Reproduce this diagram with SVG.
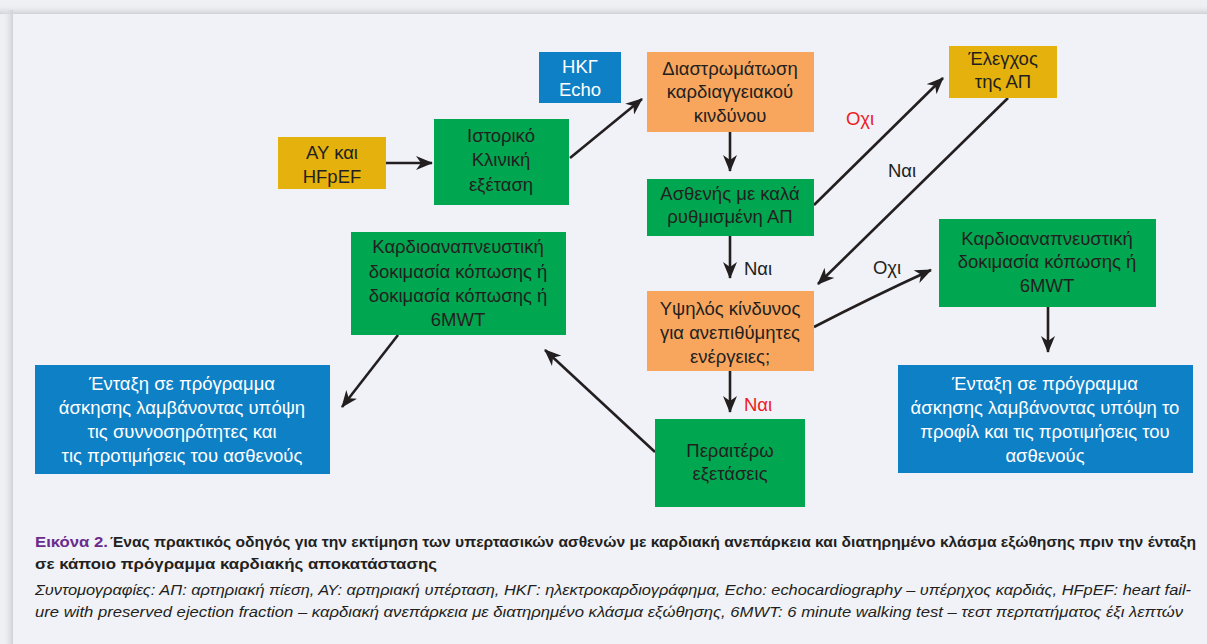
<svg xmlns="http://www.w3.org/2000/svg" width="1207" height="644" viewBox="0 0 1207 644">
<defs>
<style>
.t{font-family:"Liberation Sans",Arial,sans-serif;font-size:18.5px;fill:#231f20;text-anchor:middle}
.w{fill:#ffffff}
.red{fill:#ed1c24}
.g{fill:#00a650}
.o{fill:#f8a65d}
.y{fill:#e5b10d}
.b{fill:#0e80c6}
.c{stroke:#231f20;stroke-width:2.6;fill:none;marker-end:url(#ah)}
.cap{font-family:"Liberation Sans",Arial,sans-serif;font-size:14px;fill:#231f20}
.bold{font-weight:bold}
.it{font-style:italic}
.pur{fill:#6a2c8c;font-weight:bold}
</style>
<marker id="ah" markerUnits="userSpaceOnUse" markerWidth="18" markerHeight="14" refX="16" refY="7" orient="auto">
<path d="M0,0 L17,7 L0,14 L5,7 Z" fill="#231f20"/>
</marker>
<linearGradient id="shT" x1="0" y1="0" x2="0" y2="1">
<stop offset="0" stop-color="#eef0f3" stop-opacity="0"/>
<stop offset="1" stop-color="#cfd1d6"/>
</linearGradient>
<linearGradient id="shL" x1="0" y1="0" x2="1" y2="0">
<stop offset="0" stop-color="#eef0f3" stop-opacity="0"/>
<stop offset="1" stop-color="#cfd1d6"/>
</linearGradient>
</defs>
<rect x="0" y="0" width="1207" height="644" fill="#eff0f4"/>
<rect x="0" y="4" width="1207" height="10" fill="url(#shT)"/>
<rect x="2" y="10" width="11" height="634" fill="url(#shL)"/>
<rect x="13" y="14" width="1194" height="630" fill="#f1f2f7"/>

<g id="connectors">
<path class="c" d="M386,163 L432,163"/>
<path class="c" d="M570,158 L642,99"/>
<path class="c" d="M730,132 L730,171"/>
<path class="c" d="M814,205 L943,78"/>
<path class="c" d="M1008,98 L818,284"/>
<path class="c" d="M730,236 L730,278"/>
<path class="c" d="M814,327 Q870,298 931,270"/>
<path class="c" d="M1048,307 L1048,352"/>
<path class="c" d="M730,371 L730,412"/>
<path class="c" d="M655,452 L545,350"/>
<path class="c" d="M398,335 L342,407"/>
<text class="t red" x="860" y="125">Οχι</text>
<text class="t" x="902" y="177">Ναι</text>
<text class="t" x="758" y="275">Ναι</text>
<text class="t red" x="758" y="411">Ναι</text>
<text class="t" x="887" y="274">Οχι</text>
</g>

<g id="n-hkg">
<rect class="b" x="539" y="52" width="82" height="51"/>
<text class="t w" x="580" y="73">ΗΚΓ</text>
<text class="t w" x="580" y="96">Echo</text>
</g>
<g id="n-ay">
<rect class="y" x="278" y="137" width="108" height="52"/>
<text class="t" x="332" y="159">ΑΥ και</text>
<text class="t" x="332" y="183">HFpEF</text>
</g>
<g id="n-istoriko">
<rect class="g" x="434" y="119" width="135" height="86"/>
<text class="t" x="501" y="142">Ιστορικό</text>
<text class="t" x="501" y="166">Κλινική</text>
<text class="t" x="501" y="191">εξέταση</text>
</g>
<g id="n-diastr">
<rect class="o" x="647" y="52" width="167" height="80"/>
<text class="t" x="730" y="75">Διαστρωμάτωση</text>
<text class="t" x="730" y="98">καρδιαγγειακού</text>
<text class="t" x="730" y="122">κινδύνου</text>
</g>
<g id="n-asthenis">
<rect class="g" x="647" y="179" width="167" height="57"/>
<text class="t" x="730" y="200">Ασθενής με καλά</text>
<text class="t" x="730" y="223">ρυθμισμένη ΑΠ</text>
</g>
<g id="n-elegxos">
<rect class="y" x="949" y="46" width="108" height="52"/>
<text class="t" x="1003" y="65">Έλεγχος</text>
<text class="t" x="1003" y="88">της ΑΠ</text>
</g>
<g id="n-kardio-left">
<rect class="g" x="351" y="232" width="215" height="103"/>
<text class="t" x="458" y="253">Καρδιοαναπνευστική</text>
<text class="t" x="458" y="278">δοκιμασία κόπωσης ή</text>
<text class="t" x="458" y="302">δοκιμασία κόπωσης ή</text>
<text class="t" x="458" y="326">6MWT</text>
</g>
<g id="n-ypsilos">
<rect class="o" x="647" y="291" width="167" height="80"/>
<text class="t" x="730" y="315">Υψηλός κίνδυνος</text>
<text class="t" x="730" y="339">για ανεπιθύμητες</text>
<text class="t" x="730" y="363">ενέργειες;</text>
</g>
<g id="n-kardio-right">
<rect class="g" x="939" y="219" width="217" height="88"/>
<text class="t" x="1047" y="245">Καρδιοαναπνευστική</text>
<text class="t" x="1047" y="268">δοκιμασία κόπωσης ή</text>
<text class="t" x="1047" y="292">6MWT</text>
</g>
<g id="n-peraitero">
<rect class="g" x="655" y="419" width="150" height="88"/>
<text class="t" x="730" y="457">Περαιτέρω</text>
<text class="t" x="730" y="480">εξετάσεις</text>
</g>
<g id="n-entaxi-left">
<rect class="b" x="35" y="365" width="295" height="109"/>
<text class="t w" x="182" y="390">Ένταξη σε πρόγραμμα</text>
<text class="t w" x="182" y="414">άσκησης λαμβάνοντας υπόψη</text>
<text class="t w" x="182" y="438">τις συννοσηρότητες και</text>
<text class="t w" x="182" y="462">τις προτιμήσεις του ασθενούς</text>
</g>
<g id="n-entaxi-right">
<rect class="b" x="898" y="365" width="295" height="108"/>
<text class="t w" x="1045" y="390">Ένταξη σε πρόγραμμα</text>
<text class="t w" x="1045" y="414">άσκησης λαμβάνοντας υπόψη το</text>
<text class="t w" x="1045" y="438">προφίλ και τις προτιμήσεις του</text>
<text class="t w" x="1045" y="462">ασθενούς</text>
</g>

<g id="caption">
<text class="cap pur" x="35" y="547" textLength="73" lengthAdjust="spacingAndGlyphs">Εικόνα 2.</text>
<text class="cap bold" x="110" y="547" textLength="1086" lengthAdjust="spacingAndGlyphs">Ένας πρακτικός οδηγός για την εκτίμηση των υπερτασικών ασθενών με καρδιακή ανεπάρκεια και διατηρημένο κλάσμα εξώθησης πριν την ένταξη</text>
<text class="cap bold" x="35" y="569" textLength="402" lengthAdjust="spacingAndGlyphs">σε κάποιο πρόγραμμα καρδιακής αποκατάστασης</text>
<text class="cap it" x="35" y="595" textLength="1156" lengthAdjust="spacingAndGlyphs">Συντομογραφίες: ΑΠ: αρτηριακή πίεση, ΑΥ: αρτηριακή υπέρταση, ΗΚΓ: ηλεκτροκαρδιογράφημα, Echo: echocardiography – υπέρηχος καρδιάς, HFpEF: heart fail-</text>
<text class="cap it" x="35" y="617" textLength="1148" lengthAdjust="spacingAndGlyphs">ure with preserved ejection fraction – καρδιακή ανεπάρκεια με διατηρημένο κλάσμα εξώθησης, 6MWT: 6 minute walking test – τεστ περπατήματος έξι λεπτών</text>
</g>
</svg>
